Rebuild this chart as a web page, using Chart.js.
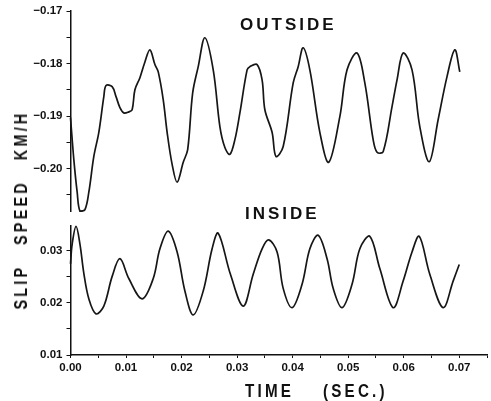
<!DOCTYPE html>
<html>
<head>
<meta charset="utf-8">
<script src="https://cdn.jsdelivr.net/npm/chart.js@4.4.1/dist/chart.umd.min.js"></script>
<style>
  body { margin: 0; background: #fff; }
  #wrap { position: relative; width: 491px; height: 401px; overflow: hidden; background: #fff;
          font-family: "Liberation Sans", Arial, sans-serif; color: #111; }
  canvas { position: absolute; left: 0; }
  #upper { top: 0; }
  #lower { top: 215px; }
  .lbl { position: absolute; font-weight: bold; white-space: nowrap; line-height: 1; }
  .panel { font-size: 17px; letter-spacing: 3px; }
  .ytitle { left: 21px; top: 210px; font-size: 18px; letter-spacing: 4px; word-spacing: 16px;
            transform: translate(-50%, -50%) rotate(-90deg) scaleX(0.8); }
  .xtitle { font-size: 19px; letter-spacing: 4px; transform-origin: 0 0; transform: scaleX(0.8); }
</style>
</head>
<body>
<div id="wrap">
  <canvas id="upper" width="491" height="222"></canvas>
  <canvas id="lower" width="491" height="186"></canvas>
  <div class="lbl panel" style="left:240px; top:16px;">OUTSIDE</div>
  <div class="lbl panel" style="left:245px; top:205px;">INSIDE</div>
  <div class="lbl ytitle">SLIP SPEED KM/H</div>
  <div class="lbl xtitle" style="left:245px; top:381px;">TIME</div>
  <div class="lbl xtitle" style="left:323px; top:381px;">(SEC.)</div>
</div>
<script>
// outside wheel slip speed (km/h) against time (s)
const outsideTime = [
  0.0000, 0.0006, 0.0012, 0.0017, 0.0026, 0.0033, 0.0042, 0.0051, 0.0060, 0.0064,
  0.0075, 0.0082, 0.0089, 0.0096, 0.0105, 0.0111, 0.0116, 0.0125, 0.0134, 0.0143,
  0.0152, 0.0158, 0.0167, 0.0174, 0.0183, 0.0192, 0.0203, 0.0211, 0.0220, 0.0230,
  0.0242, 0.0257, 0.0269, 0.0278, 0.0287, 0.0296, 0.0305, 0.0318, 0.0323, 0.0336,
  0.0345, 0.0350, 0.0363, 0.0370, 0.0383, 0.0401, 0.0410, 0.0419, 0.0431, 0.0449,
  0.0465, 0.0485, 0.0498, 0.0516, 0.0530, 0.0545, 0.0552, 0.0563, 0.0579, 0.0588,
  0.0599, 0.0615, 0.0629, 0.0646, 0.0662, 0.0678, 0.0692, 0.0701
];
const outsideSpeed = [
  -0.1903, -0.1983, -0.2045, -0.2081, -0.2078, -0.2045, -0.1977, -0.1931, -0.1863, -0.1842,
  -0.1844, -0.1863, -0.1884, -0.1894, -0.1892, -0.1888, -0.1850, -0.1827, -0.1797, -0.1774,
  -0.1802, -0.1816, -0.1869, -0.1931, -0.1992, -0.2026, -0.1988, -0.1964, -0.1856, -0.1806,
  -0.1751, -0.1812, -0.1920, -0.1960, -0.1973, -0.1945, -0.1894, -0.1812, -0.1806, -0.1802,
  -0.1831, -0.1888, -0.1931, -0.1977, -0.1958, -0.1837, -0.1806, -0.1770, -0.1812, -0.1931,
  -0.1988, -0.1901, -0.1812, -0.1780, -0.1837, -0.1945, -0.1969, -0.1968, -0.1882, -0.1831,
  -0.1780, -0.1812, -0.1920, -0.1987, -0.1907, -0.1825, -0.1774, -0.1816
];

// inside wheel slip speed
const insideTime = [
  0.0000, 0.0003, 0.0010, 0.0017, 0.0024, 0.0033, 0.0046, 0.0060, 0.0075, 0.0089,
  0.0105, 0.0129, 0.0149, 0.0161, 0.0176, 0.0192, 0.0206, 0.0221, 0.0239, 0.0255,
  0.0266, 0.0288, 0.0311, 0.0329, 0.0345, 0.0357, 0.0372, 0.0383, 0.0399, 0.0417,
  0.0431, 0.0446, 0.0462, 0.0473, 0.0489, 0.0507, 0.0521, 0.0539, 0.0557, 0.0581,
  0.0599, 0.0615, 0.0628, 0.0647, 0.0671, 0.0689, 0.0700
];
const insideSpeed = [
  0.0275, 0.0313, 0.0347, 0.0313, 0.0257, 0.0208, 0.0179, 0.0194, 0.0251, 0.0285,
  0.0247, 0.0208, 0.0247, 0.0304, 0.0338, 0.0298, 0.0223, 0.0177, 0.0223, 0.0304,
  0.0334, 0.0255, 0.0194, 0.0255, 0.0304, 0.0321, 0.0298, 0.0228, 0.0191, 0.0236,
  0.0304, 0.0330, 0.0285, 0.0228, 0.0191, 0.0236, 0.0304, 0.0328, 0.0266, 0.0191,
  0.0242, 0.0298, 0.0328, 0.0255, 0.0191, 0.0242, 0.0274
];

const tickFont = { family: "'Liberation Sans', Arial, sans-serif", size: 11.5, weight: 'bold' };

// only every second tick (0.01 steps) gets a label
function tickFmt(v) {
    const k = Math.round(v * 200);
    if (k % 2 !== 0) return '';
    return (k / 200).toFixed(2).replace('-', '\u2212');
}

function yAxis(min, max) {
    return {
        min: min,
        max: max,
        afterFit: (s) => { s.width = 70.5; },
        border: { display: true, color: '#111', width: 1.5 },
        grid: { drawOnChartArea: false, drawTicks: true, tickLength: 4, color: '#111', lineWidth: 1 },
        ticks: { stepSize: 0.005, includeBounds: false, callback: tickFmt, font: tickFont, color: '#111', padding: 4 },
    };
}

function lineSet(xs, ys) {
    return {
        data: xs.map((t, i) => ({ x: t, y: ys[i] })),
        borderColor: '#161616',
        borderWidth: 1.7,
        pointRadius: 0,
        fill: false,
        tension: 0.35,
        clip: false,
    };
}

const common = {
    responsive: false,
    animation: false,
    events: [],
    plugins: { legend: { display: false }, tooltip: { enabled: false } },
};

new Chart(document.getElementById('upper'), {
    type: 'line',
    data: { datasets: [lineSet(outsideTime, outsideSpeed)] },
    options: {
        ...common,
        layout: { padding: { top: 11, right: 4, bottom: 10, left: 0 } },
        scales: {
            x: { type: 'linear', display: false, min: 0, max: 0.075 },
            y: yAxis(-0.2081, -0.17),
        },
    },
});

new Chart(document.getElementById('lower'), {
    type: 'line',
    data: { datasets: [lineSet(insideTime, insideSpeed)] },
    options: {
        ...common,
        layout: { padding: { top: 8.6, right: 4, bottom: 10, left: 0 } },
        scales: {
            x: {
                type: 'linear',
                min: 0,
                max: 0.075,
                afterFit: (s) => { s.height = 36; },
                border: { display: true, color: '#111', width: 1.5 },
                grid: { drawOnChartArea: false, drawTicks: true, tickLength: 3, color: '#111', lineWidth: 1 },
                ticks: { stepSize: 0.005, includeBounds: false, autoSkip: false, maxRotation: 0,
                         callback: tickFmt, font: tickFont, color: '#111', padding: 3 },
            },
            y: yAxis(0.01, 0.0348),
        },
    },
});
</script>
</body>
</html>
